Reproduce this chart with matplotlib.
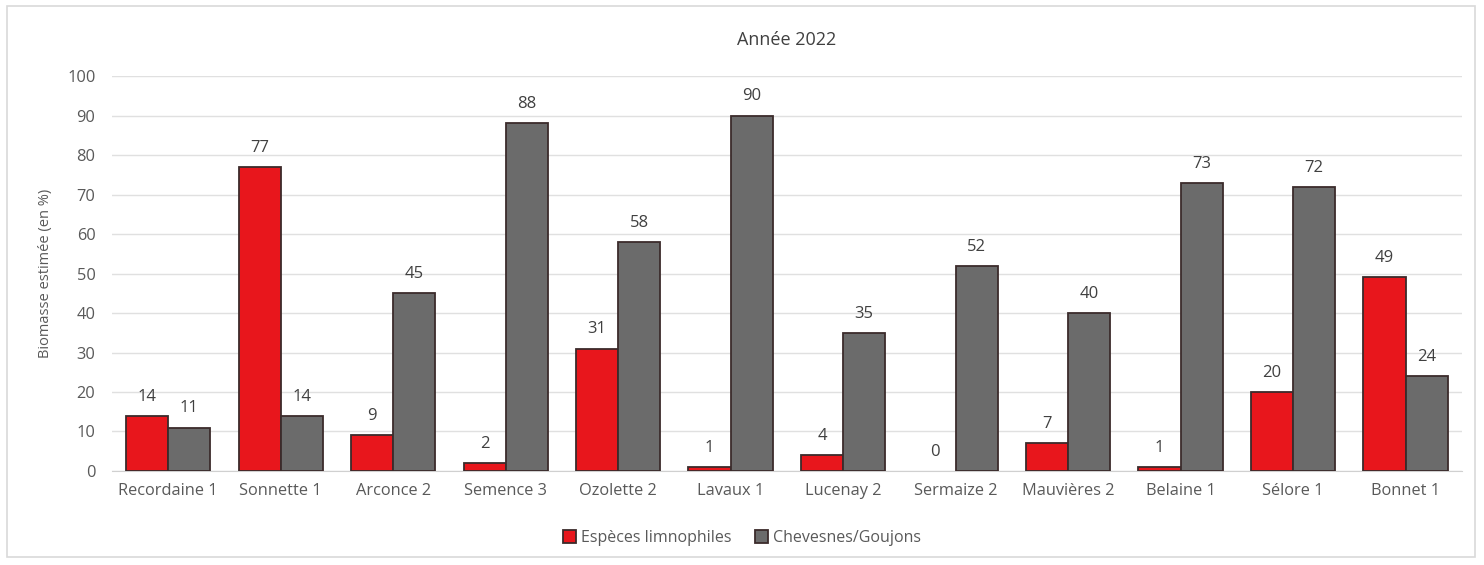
import matplotlib.pyplot as plt
import numpy as np
from matplotlib.patches import Rectangle

stations = ['Recordaine 1', 'Sonnette 1', 'Arconce 2', 'Semence 3', 'Ozolette 2', 'Lavaux 1',
            'Lucenay 2', 'Sermaize 2', 'Mauvières 2', 'Belaine 1', 'Sélore 1', 'Bonnet 1']
limnophiles = [14, 77, 9, 2, 31, 1, 4, 0, 7, 1, 20, 49]
chevesnes = [11, 14, 45, 88, 58, 90, 35, 52, 40, 73, 72, 24]

red = '#e8161c'
grey = '#6b6b6b'
edge = '#3b2b2b'
txt = '#595959'

plt.rcParams['font.family'] = ['Open Sans', 'DejaVu Sans']

fig = plt.figure(figsize=(14.84, 5.65), dpi=100)
ax = fig.add_axes([0.0755, 0.1664, 0.9095, 0.699])

x = np.arange(len(stations))
w = 0.375
b1 = ax.bar(x - w / 2, limnophiles, w, color=red, edgecolor=edge, linewidth=1.3,
            label='Espèces limnophiles', zorder=3)
b2 = ax.bar(x + w / 2, chevesnes, w, color=grey, edgecolor=edge, linewidth=1.3,
            label='Chevesnes/Goujons', zorder=3)
# a zero-height bar should not leave an outline on the axis
for r, v in zip(b1, limnophiles):
    if v == 0:
        r.set_linewidth(0)

for bars, vals in ((b1, limnophiles), (b2, chevesnes)):
    for r, v in zip(bars, vals):
        ax.text(r.get_x() + r.get_width() / 2, v + 2.8, str(v), ha='center', va='bottom',
                fontsize=12, color='#404040')

ax.set_xlim(-0.5, len(stations) - 0.5)
ax.set_ylim(0, 100)
ax.set_yticks(range(0, 101, 10))
ax.set_xticks(x)
ax.set_xticklabels(stations)
ax.tick_params(axis='both', length=0, labelsize=11.8, labelcolor=txt)
ax.tick_params(axis='x', pad=9)
ax.tick_params(axis='y', pad=12)
ax.grid(axis='y', color='#e0e0e0', linewidth=1, zorder=0)
for s in ['top', 'right', 'left']:
    ax.spines[s].set_visible(False)
ax.spines['bottom'].set_color('#d0d0d0')

ax.set_ylabel('Biomasse estimée (en %)', fontsize=10.5, color=txt, labelpad=10)
ax.set_title('Année 2022', fontsize=13, color='#404040', pad=22)

fig.legend(handles=[b1, b2], loc='center', bbox_to_anchor=(0.5, 1 - 538 / 565), ncol=2,
           frameon=False, fontsize=11.5, labelcolor=txt, handlelength=0.8, handleheight=0.8,
           handletextpad=0.3, columnspacing=1.5)

fig.patches.append(Rectangle((7 / 1484, 1 - 557 / 565), 1468 / 1484, 551 / 565,
                             transform=fig.transFigure, fill=False, edgecolor='#d9d9d9',
                             linewidth=1.2))

fig.savefig('out.png', dpi=100, facecolor='white')
